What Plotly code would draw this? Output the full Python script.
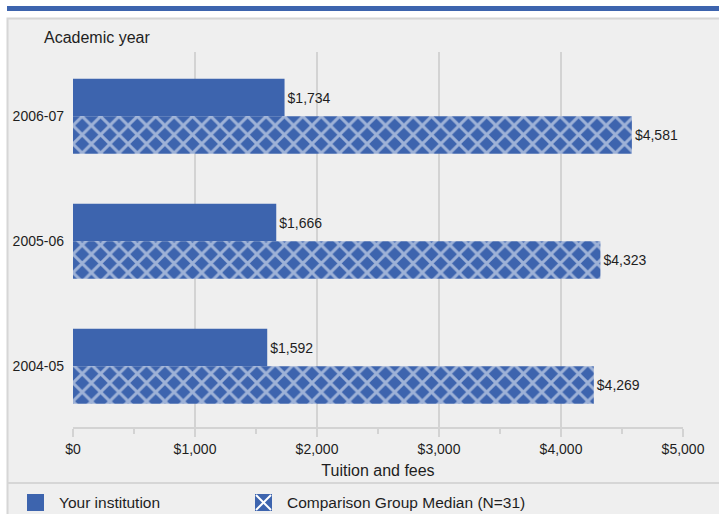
import plotly.graph_objects as go

years = ["2006-07", "2005-06", "2004-05"]
your_inst = [1734, 1666, 1592]
comparison = [4581, 4323, 4269]
series_names = ["Your institution", "Comparison Group Median (N=31)"]
x_ticks = [0, 1000, 2000, 3000, 4000, 5000]
x_tick_labels = ["$0", "$1,000", "$2,000", "$3,000", "$4,000", "$5,000"]

BLUE = "#3D64AE"
PANEL = "#EFEFEF"
GRID = "#D3D3D3"
TXT = "#1E1E1E"
FONT = "Liberation Sans, Arial, sans-serif"

W, H = 719, 514
L, R, T, B = 73, 683, 52, 427  # plot area in pixels


def px(x):
    return (x - L) / (R - L)


def py(y):
    return (B - y) / (B - T)


fig = go.Figure()
fig.add_trace(go.Bar(
    y=years, x=your_inst, orientation="h", name=series_names[0],
    marker=dict(color=BLUE, line=dict(width=0)),
    text=[f"${v:,}" for v in your_inst], textposition="outside",
    textfont=dict(size=14, color=TXT), cliponaxis=False,
))
fig.add_trace(go.Bar(
    y=years, x=comparison, orientation="h", name=series_names[1],
    marker=dict(color=BLUE, line=dict(width=0),
                pattern=dict(shape="x", fgcolor="#FFFFFF", bgcolor=BLUE,
                             size=13, solidity=0.4)),
    text=[f"${v:,}" for v in comparison], textposition="outside",
    textfont=dict(size=14, color=TXT), cliponaxis=False,
))

shapes = [
    # top blue rule
    dict(type="rect", xref="paper", yref="paper", x0=px(7), x1=px(719),
         y0=py(11), y1=py(6), fillcolor=BLUE, line=dict(width=0), layer="below"),
    # grey panel
    dict(type="rect", xref="paper", yref="paper", x0=px(7.5), x1=px(725),
         y0=py(520), y1=py(18.5), fillcolor=PANEL,
         line=dict(color="#D6D6D6", width=2), layer="below"),
    # legend separator
    dict(type="line", xref="paper", yref="paper", x0=px(7.5), x1=px(719),
         y0=py(483), y1=py(483), line=dict(color="#D6D6D6", width=2), layer="below"),
    # legend key 1: solid square
    dict(type="rect", xref="paper", yref="paper", x0=px(27), x1=px(44),
         y0=py(511), y1=py(494), fillcolor=BLUE, line=dict(width=0)),
    # legend key 2: square with white X
    dict(type="rect", xref="paper", yref="paper", x0=px(255), x1=px(272),
         y0=py(511), y1=py(494), fillcolor=BLUE, line=dict(width=0)),
    dict(type="line", xref="paper", yref="paper", x0=px(256), x1=px(271),
         y0=py(510), y1=py(495), line=dict(color="white", width=2)),
    dict(type="line", xref="paper", yref="paper", x0=px(256), x1=px(271),
         y0=py(495), y1=py(510), line=dict(color="white", width=2)),
]

annotations = [
    dict(text="Academic year", xref="paper", yref="paper",
         x=px(42), y=py(38), xanchor="left", yanchor="middle",
         showarrow=False, font=dict(size=16, color=TXT)),
    dict(text=series_names[0], xref="paper", yref="paper",
         x=px(56.5), y=py(502.5), xanchor="left", yanchor="middle",
         showarrow=False, font=dict(size=15.5, color=TXT)),
    dict(text=series_names[1], xref="paper", yref="paper",
         x=px(284.5), y=py(502.5), xanchor="left", yanchor="middle",
         showarrow=False, font=dict(size=15.5, color=TXT)),
]

fig.update_layout(
    width=W, height=H,
    margin=dict(l=L, r=W - R, t=T, b=H - B, pad=0, autoexpand=False),
    paper_bgcolor="white", plot_bgcolor=PANEL,
    font=dict(family=FONT, color=TXT, size=14),
    barmode="group", bargap=0.4, bargroupgap=0,
    shapes=shapes,
    annotations=annotations,
    showlegend=False,
    xaxis=dict(range=[0, 5000], tickvals=x_ticks, ticktext=x_tick_labels,
               showgrid=True, gridcolor=GRID, gridwidth=2,
               showline=True, linecolor=GRID, linewidth=2,
               ticks="outside", ticklen=8, tickcolor=GRID, tickwidth=2,
               minor=dict(dtick=500, tick0=0, ticks="outside", ticklen=5,
                          tickcolor=GRID, tickwidth=2, showgrid=False),
               zeroline=False, tickfont=dict(size=14, color=TXT),
               title=dict(text="Tuition and fees", font=dict(size=16, color=TXT), standoff=9),
               automargin=False, fixedrange=True),
    yaxis=dict(type="category", range=[2.486, -0.514], showgrid=False, showline=False,
               zeroline=False, ticks="", ticklabelstandoff=8,
               tickfont=dict(size=14, color=TXT), automargin=False, fixedrange=True),
)

fig.write_html(
    "out.html",
    config={"displayModeBar": False},
    post_script="document.body.style.margin='0';document.body.style.overflow='hidden';",
)
